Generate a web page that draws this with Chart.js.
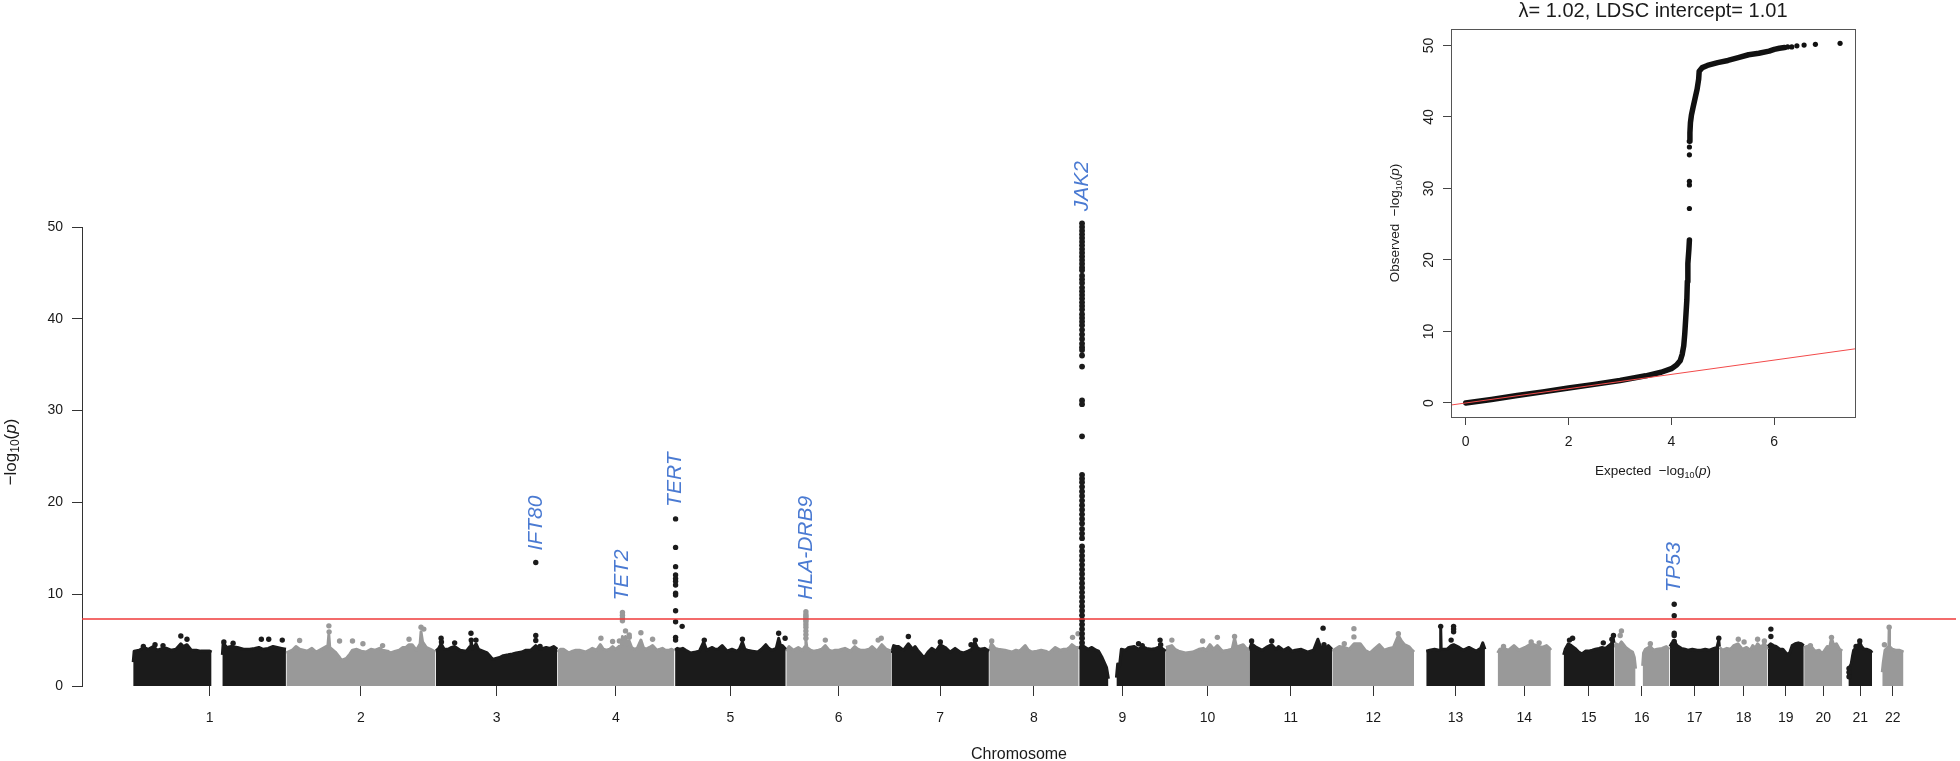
<!DOCTYPE html>
<html>
<head>
<meta charset="utf-8">
<script src="https://cdn.jsdelivr.net/npm/chart.js@4.4.1/dist/chart.umd.min.js"></script>
<style>
  html, body { margin: 0; padding: 0; background: #fff; }
  #wrap { position: relative; width: 1960px; height: 761px; overflow: hidden; }
  #manhattan { position: absolute; left: 0; top: 0; }
  #qq { position: absolute; left: 1370px; top: 0; }
</style>
</head>
<body>
<div id="wrap">
  <canvas id="manhattan" width="1960" height="761"></canvas>
  <canvas id="qq" width="500" height="490"></canvas>
</div>
<script>
// ---- data ----
const chrNames = ['1','2','3','4','5','6','7','8','9','10','11','12','13','14','15','16','17','18','19','20','21','22'];
const chrLengthMb = [249.25, 243.2, 198.0, 191.15, 180.9, 171.1, 159.1, 146.4, 141.2, 135.5, 135.0,
  133.85, 115.2, 107.35, 102.5, 90.35, 81.2, 78.1, 59.1, 63.0, 48.1, 51.3];

// upper edge of the dense SNP cloud per chromosome: [Mb, -log10 p]  (null = no SNPs)
const chrEnvelope = [
  [[0.5,2.6],[2,3.8],[10,3.9],[18,4.2],[25,4.0],[33,4.3],[40,3.9],[48,4.1],[55,4.1],[62,3.9],[70,4.0],[78,4.6],[82,4.3],[88,4.5],[95,3.9],[103,3.9],[110,3.8],[118,3.8],[125,3.8],[128,3.7],[129,null],[145.5,3.4],[147,4.8],[152,4.2],[160,4.3],[170,4.2],[180,4.0],[190,4.0],[198,4.1],[205,4.2],[212,4.0],[220,4.1],[228,4.3],[235,4.2],[242,4.1],[249,4.0]],
  [[0.5,3.6],[10,3.9],[16,4.3],[22,4.0],[35,3.8],[42,4.1],[49,3.7],[60,4.1],[68,4.4],[69.5,5.6],[71,4.2],[80,3.7],[86,3.2],[90,2.8],[98,3.0],[104,3.5],[108,3.9],[115,4.0],[122,3.8],[130,3.7],[138,4.0],[145,3.9],[152,4.1],[157,3.9],[165,3.8],[170,3.6],[178,3.8],[184,3.9],[190,4.2],[195,4.2],[200,4.5],[205,4.5],[212,3.9],[218,4.6],[219.5,5.9],[222,4.8],[228,4.2],[235,4.0],[243,3.7]],
  [[0.5,3.8],[5,4.1],[9,4.6],[14,4.0],[20,4.0],[26,4.2],[31,4.3],[40,3.9],[50,3.8],[56,4.3],[57.6,5.0],[60,4.0],[65.7,4.6],[70,4.0],[77,3.8],[84,3.6],[88,3.3],[93,2.9],[98,3.0],[104,3.1],[110,3.3],[118,3.4],[125,3.5],[131,3.6],[140,3.7],[147,3.9],[155,3.9],[163,4.4],[170,4.0],[180,4.2],[186,4.1],[192,4.3],[198,4.0]],
  [[0.5,3.7],[5,4.0],[10,4.0],[19,3.6],[25,3.8],[30,3.9],[36,3.9],[46,3.7],[52,3.9],[57,4.1],[64,3.9],[70,4.5],[75,4.0],[80,3.9],[85,4.0],[90,4.3],[95,4.0],[100,4.3],[104,4.4],[106,5.4],[108,4.6],[111,5.4],[114,4.5],[117,4.9],[121,4.2],[125,4.0],[130,4.1],[136,5.0],[140,4.2],[144,4.0],[150,4.2],[155,4.4],[162,3.9],[167,4.0],[171,4.1],[176,3.9],[182,3.9],[186,4.0],[190.5,3.8]],
  [[0.5,3.9],[4,4.1],[8,4.0],[13,4.1],[18,3.9],[26,3.6],[34,3.7],[40,3.8],[47,4.8],[52,3.9],[61,4.2],[66,4.0],[70,4.0],[77,4.4],[85,3.8],[93,4.0],[101,3.8],[105,4.0],[110,4.8],[114,4.0],[118,3.9],[126,3.8],[135,3.7],[141,4.0],[148,4.5],[153,4.1],[158,3.9],[165,4.1],[169,5.2],[172,4.4],[175,4.4],[180.5,4.0]],
  [[0.5,3.8],[5,4.3],[12,3.9],[20,4.2],[27,3.9],[31,4.3],[32.4,5.0],[34,4.2],[40,3.9],[45,3.8],[53,3.9],[58,4.0],[64,4.4],[70,3.9],[75,3.8],[80,3.9],[86,3.9],[91,4.0],[96,4.1],[105,3.8],[112,4.3],[117,4.0],[121,3.9],[129,3.9],[135,4.0],[140,4.3],[148,3.8],[156,4.5],[163,4.0],[171,3.8]],
  [[0.5,3.6],[4,4.4],[8,4.3],[12,4.3],[20,3.9],[28,4.6],[35,4.0],[39,4.3],[43,3.9],[47,3.6],[52,3.2],[55,3.2],[60,3.7],[66,4.1],[73,3.8],[80,4.5],[88,4.2],[96,3.7],[104,4.1],[112,3.7],[118,3.6],[125,3.8],[131,4.0],[136,4.8],[140,4.2],[144,4.0],[152,4.1],[159,3.8]],
  [[0.5,3.8],[4,4.6],[10,4.1],[15,4.0],[26,3.9],[32,3.8],[37,3.7],[44,3.9],[50,3.8],[59,4.4],[64,3.9],[70,3.7],[78,3.8],[85,3.9],[92,3.8],[98,3.6],[108,4.2],[116,3.9],[122,4.0],[127,4.0],[131,4.2],[135,4.5],[141,4.2],[146,4.2]],
  [[0.5,4.0],[5.07,4.6],[8,4.3],[15,4.0],[21,4.2],[28,3.9],[32,3.8],[37,3.2],[41,2.6],[45,2.0],[48,0.8],[49,null],[61,0.9],[63,2.4],[66,2.2],[69,4.0],[76,3.9],[81,4.2],[90,4.3],[97,4.0],[103,4.3],[110,4.1],[118,4.0],[125,4.1],[132,4.3],[137,4.0],[141,3.8]],
  [[0.5,4.2],[10,4.4],[15,4.0],[21,3.8],[32,3.6],[44,3.7],[54,4.0],[61,4.1],[66,3.9],[72,4.5],[78,4.0],[84,4.4],[92,3.8],[101,3.9],[108,4.0],[112,5.2],[115,4.3],[118,4.3],[126,4.5],[132,4.0],[135.5,4.1]],
  [[0.5,3.9],[4,4.6],[12,4.2],[21,3.9],[28,4.2],[37,4.5],[44,4.0],[48,4.3],[56,3.9],[64,4.2],[70,3.8],[75,3.9],[85,4.0],[96,3.7],[105,3.9],[112,5.1],[116,4.3],[124,4.1],[129,4.4],[135,4.0]],
  [[0.5,3.8],[5,4.0],[12,4.3],[20,4.2],[28,4.0],[36,4.6],[46,4.6],[54,3.9],[62,3.6],[70,4.1],[77,4.5],[85,3.9],[93,4.1],[100,4.2],[108,5.5],[113,4.9],[118,4.5],[125,4.3],[129,4.0],[133.5,3.7]],
  [[19.5,3.8],[25,3.9],[33,4.0],[40,3.9],[42.5,4.0],[43,6.4],[43.8,4.0],[53,4.0],[60,4.4],[64,4.5],[73,4.2],[80,3.9],[89,4.2],[95,4.0],[101,3.8],[108,4.1],[111.5,4.7],[115,4.0]],
  [[20.5,3.6],[24,4.0],[30,4.1],[38,3.9],[47,4.4],[55,3.9],[65,4.2],[75,4.6],[84,4.4],[93,4.2],[100,4.4],[105,4.1],[107,3.9]],
  [[20.5,3.4],[23,4.0],[28,4.6],[33,4.4],[39,4.1],[45,3.7],[50,3.5],[56,3.8],[61,3.8],[67,3.9],[72,4.0],[78,4.1],[83,4.2],[89,4.1],[94,4.4],[98,4.6],[101,5.2],[102.5,4.7]],
  [[0.5,4.2],[3,4.6],[8,4.4],[12,4.8],[19,4.2],[25,3.9],[30,3.7],[33,3.1],[35,1.9],[36,null],[46.5,2.2],[48,3.6],[51,4.0],[59,4.3],[64,3.9],[70,4.0],[78,4.1],[85,4.3],[90,4.0]],
  [[0.5,4.3],[4,4.7],[7.5,4.9],[12,4.4],[19,4.1],[25,4.0],[30,3.9],[37,4.0],[45,3.9],[51,3.9],[58,4.0],[65,3.9],[72,4.1],[77,4.2],[80,5.0],[81,4.3]],
  [[0.5,4.2],[5,3.9],[12,4.1],[18,4.0],[23,4.4],[30,4.6],[37,4.0],[44,4.2],[50,3.9],[54,4.4],[58,4.1],[62,4.6],[68,4.2],[73,4.7],[78,4.0]],
  [[0.5,4.3],[5,4.6],[10,4.4],[14,4.3],[20,4.0],[25,4.0],[30,3.6],[35,3.4],[40,4.4],[45,4.6],[50,4.7],[55,4.6],[59,4.4]],
  [[0.5,4.2],[5,4.3],[11,4.4],[18,3.8],[25,3.9],[30,3.5],[38,4.3],[42,4.2],[45,5.2],[49,4.4],[53,4.6],[58,4.0],[62.5,3.8]],
  [[9.5,1.2],[11,2.0],[14,2.4],[16,3.2],[18,3.9],[21,4.1],[25,4.4],[28,4.8],[31,4.3],[35,4.0],[39,4.0],[43,3.9],[46,3.8],[48,3.6]],
  [[16.5,1.5],[18,2.5],[21,3.9],[25,4.2],[27.2,4.3],[27.7,6.3],[28.3,4.3],[33,4.0],[38,3.9],[44,3.9],[48,3.8],[51,3.7]]
];

// individual SNPs standing out of the cloud: [chromosome, Mb, -log10 p]
const hitPoints = [
  [1,17,4.3],[1,36,4.5],[1,49,4.4],[1,78,5.45],[1,88,5.1],[1,148,4.8],[1,163,4.65],[1,209,5.1],[1,221,5.1],[1,243,5.0],
  [2,22,4.95],[2,69.6,6.55],[2,70,5.9],[2,87,4.9],[2,108,4.9],[2,125,4.6],[2,157,4.4],[2,200,5.1],[2,219.5,6.4],[2,224,6.2],
  [3,9,5.2],[3,9.5,4.8],[3,31,4.7],[3,57.6,5.75],[3,58,5.0],[3,65.7,5.0],[3,163,13.45],[3,163,5.5],[3,163,4.95],[3,170,4.3],
  [4,106,8.0],[4,106,7.7],[4,106,7.4],[4,106,7.1],[4,111,6.0],[4,117,5.55],[4,117,5.3],[4,136,5.8],[4,71,5.2],[4,155,5.1],[4,90,4.85],[4,101,4.9],
  [5,1.3,18.2],[5,1.3,15.1],[5,1.3,13.0],[5,1.3,12.1],[5,1.3,11.7],[5,1.3,11.4],[5,1.3,11.0],[5,1.3,10.1],[5,1.3,9.9],[5,1.3,8.2],[5,1.3,7.0],[5,1.3,5.3],[5,1.3,5.0],
  [5,12,6.5],[5,169,5.75],[5,179.5,5.2],[5,110,5.1],[5,48,5.0],
  [6,32.4,8.1],[6,32.4,7.8],[6,32.4,7.6],[6,32.4,7.4],[6,32.4,7.2],[6,32.4,7.0],[6,32.4,6.7],[6,32.4,6.4],[6,32.4,6.0],[6,32.4,5.6],[6,32.4,5.2],
  [6,64,5.0],[6,112,4.8],[6,155,5.2],[6,150,5.0],
  [7,28,5.4],[7,80,4.8],[7,137,5.0],[7,130,4.5],
  [8,4.5,4.9],[8,136,5.3],[8,145,5.7],
  [9,97,4.6],[9,132,5.0],[9,133,4.5],[9,103,4.4],
  [10,10,5.0],[10,84,5.3],[10,112,5.4],[10,60,4.9],
  [11,120.5,6.3],[11,4.2,4.9],[11,37,4.9],[11,122,4.5],
  [12,35.7,6.25],[12,35.7,5.35],[12,20,4.6],[12,108,5.7],
  [13,64,6.5],[13,64,6.2],[13,64,5.9],[13,60,5.0],[13,43,6.5],
  [14,75,4.8],[14,88,4.7],[14,30,4.3],
  [15,35,5.2],[15,30,5.0],[15,101.5,5.5],[15,99,5.1],[15,85,4.7],
  [16,12,6.0],[16,10,5.5],[16,59,4.6],
  [17,7.5,8.9],[17,7.5,7.65],[17,7.5,5.75],[17,7.5,5.5],[17,7.5,4.85],[17,80,5.2],
  [18,30.6,5.1],[18,62,5.1],[18,73,4.9],[18,40,4.8],
  [19,5.5,6.2],[19,5.5,5.4],
  [20,45,5.3],[20,10.7,4.4],
  [21,10.5,1.9],[21,10.5,1.5],[21,10.5,1.0],[21,28,4.9],[21,22,4.3],
  [22,27.7,6.4],[22,20,4.5]
];

// the JAK2 column on chromosome 9
const jak2Mb = 5.07;
const jak2Column = [50.4,50.0,49.6,49.2,48.8,48.4,48.0,47.6,47.2,46.8,46.4,46.0,45.6,45.3,44.7,44.3,43.9,43.4,43.0,
  42.6,42.2,41.8,41.4,41.0,40.5,40.1,39.7,39.3,38.8,38.3,37.8,37.3,36.9,36.6,36.0,34.8,31.1,30.7,27.2,
  23.0,22.6,22.2,21.7,21.2,20.7,20.2,19.7,19.2,18.7,18.2,17.7,17.1,16.6,16.1,15.2,14.7,14.2,13.7,13.2,
  12.7,12.2,11.7,11.2,10.7,10.2,9.7,9.2,8.7,8.2,7.7,7.2,6.7,6.2,5.7,5.2,4.7];

const geneNames = ['IFT80', 'TET2', 'TERT', 'HLA-DRB9', 'JAK2', 'TP53'];
const geneChr = [3, 4, 5, 6, 9, 17];
const geneMb = [163, 106, 1.3, 32.4, 5.07, 7.5];
const genePeak = [13.45, 8.0, 18.2, 8.1, 50.4, 8.9];

const yTicks = [0, 10, 20, 30, 40, 50];
const gwasThreshold = 7.3;

// QQ inset
const qqTitle = 'λ= 1.02, LDSC intercept= 1.01';
const qqCurve = [
  [0,0],[0.5,0.5],[1,1.05],[1.5,1.55],[2,2.1],[2.5,2.6],[3,3.15],[3.5,3.8],[3.8,4.3],[4.0,4.8],[4.1,5.3],
  [4.17,5.9],[4.21,6.8],[4.24,8.0],[4.26,9.7],[4.28,12.0],[4.3,14.4],[4.31,17.0],[4.32,19.5],[4.34,21.5],[4.35,22.8],
  null,
  [4.35,36.6],[4.36,37.8],[4.37,39.2],[4.39,40.3],[4.42,41.3],[4.46,42.6],[4.5,43.9],[4.53,45.3],[4.54,46.4],
  [4.6,46.9],[4.7,47.2],[4.9,47.6],[5.1,47.9],[5.3,48.3],[5.5,48.7],[5.7,48.9],[5.9,49.2],[6.0,49.45],[6.1,49.6],[6.2,49.7]
];
const qqPoints = [[4.35,27.2],[4.35,30.5],[4.35,31.0],[4.35,34.7],[4.35,35.8],
  [6.26,49.8],[6.34,49.8],[6.44,49.95],[6.58,50.05],[6.8,50.15],[7.28,50.3]];
const qqXTicks = [0, 2, 4, 6];
const qqYTicks = [0, 10, 20, 30, 40, 50];

// ---- helpers ----
const FONT = '"Liberation Sans", Arial, Helvetica, sans-serif';
const BLACK = '#1b1b1b';
const GREY = '#999999';
const RED = '#ef3a3a';
const BLUE = '#4a7ad2';
Chart.defaults.font.family = FONT;
Chart.defaults.color = '#1a1a1a';

const chrOffset = [];
let acc = 0;
chrLengthMb.forEach((len) => { chrOffset.push(acc); acc += len; });
const cumPos = (chr, mb) => chrOffset[chr - 1] + mb;
const chrColor = (chr) => (chr % 2 === 1 ? BLACK : GREY);

const chrTicks = chrEnvelope.map((env, i) => cumPos(i + 1, (env[0][0] + env[env.length - 1][0]) / 2));

const xMin = -82.8;
const xMax = 2966;

// draws "-log10(p)" with a subscript and italic p
function drawLogLabel(ctx, prefix, cx, cy, size, vertical) {
  const sub = Math.round(size * 0.7);
  const parts = [
    [prefix + '\u2212log', `${size}px ${FONT}`, 0],
    ['10', `${sub}px ${FONT}`, size * 0.3],
    ['(', `${size}px ${FONT}`, 0],
    ['p', `italic ${size}px ${FONT}`, 0],
    [')', `${size}px ${FONT}`, 0],
  ];
  ctx.save();
  ctx.translate(cx, cy);
  if (vertical) ctx.rotate(-Math.PI / 2);
  ctx.fillStyle = '#1a1a1a';
  ctx.textBaseline = 'middle';
  ctx.textAlign = 'left';
  let w = 0;
  parts.forEach((p) => { ctx.font = p[1]; w += ctx.measureText(p[0]).width; });
  let xx = -w / 2;
  parts.forEach((p) => {
    ctx.font = p[1];
    ctx.fillText(p[0], xx, p[2]);
    xx += ctx.measureText(p[0]).width;
  });
  ctx.restore();
}

// ---- Manhattan plot ----
const geneLabels = {
  id: 'geneLabels',
  afterDatasetsDraw(chart) {
    const { ctx, scales: { x, y } } = chart;
    ctx.save();
    ctx.fillStyle = BLUE;
    ctx.font = `italic 21px ${FONT}`;
    ctx.textAlign = 'left';
    ctx.textBaseline = 'middle';
    geneNames.forEach((g, i) => {
      const px = x.getPixelForValue(cumPos(geneChr[i], geneMb[i]));
      const py = y.getPixelForValue(genePeak[i]) - 12;
      ctx.save();
      ctx.translate(px, py);
      ctx.rotate(-Math.PI / 2);
      ctx.fillText(g, 0, 0);
      ctx.restore();
    });
    ctx.restore();
  },
  afterDraw(chart) {
    const { ctx, chartArea } = chart;
    drawLogLabel(ctx, '', 11, 452, 17, true);
    ctx.save();
    ctx.fillStyle = '#1a1a1a';
    ctx.font = `16px ${FONT}`;
    ctx.textAlign = 'center';
    ctx.textBaseline = 'middle';
    ctx.fillText('Chromosome', (chartArea.left + chartArea.right) / 2, 755);
    ctx.restore();
  },
};

const envelopeSets = chrEnvelope.map((env, i) => ({
  type: 'line',
  label: 'chr' + chrNames[i],
  data: env.map(([mb, v]) => ({ x: cumPos(i + 1, mb), y: v })),
  borderColor: chrColor(i + 1),
  backgroundColor: chrColor(i + 1),
  borderWidth: 3,
  borderJoinStyle: 'round',
  pointRadius: 0,
  fill: 'origin',
  tension: 0,
  spanGaps: false,
  clip: false,
}));

new Chart(document.getElementById('manhattan'), {
  type: 'scatter',
  data: {
    datasets: [
      {
        type: 'line',
        label: 'genome-wide significance',
        data: [{ x: xMin, y: gwasThreshold }, { x: xMax, y: gwasThreshold }],
        borderColor: RED,
        borderWidth: 1.3,
        pointRadius: 0,
        fill: false,
      },
      {
        label: 'JAK2',
        data: jak2Column.map((v) => ({ x: cumPos(9, jak2Mb), y: v })),
        backgroundColor: BLACK,
        borderWidth: 0,
        pointRadius: 2.9,
        clip: false,
      },
      {
        label: 'hits',
        data: hitPoints.map(([c, mb, v]) => ({ x: cumPos(c, mb), y: v })),
        backgroundColor: hitPoints.map(([c]) => chrColor(c)),
        borderWidth: 0,
        pointRadius: 2.7,
        clip: false,
      },
      ...envelopeSets,
    ],
  },
  options: {
    responsive: false,
    animation: false,
    events: [],
    layout: { padding: { left: 0, right: 0, top: 227, bottom: 0 } },
    plugins: { legend: { display: false }, tooltip: { enabled: false } },
    scales: {
      x: {
        type: 'linear',
        min: xMin,
        max: xMax,
        afterBuildTicks: (s) => { s.ticks = chrTicks.map((v) => ({ value: v })); },
        afterFit: (s) => { s.height = 75; },
        border: { display: false },
        grid: { drawOnChartArea: false, drawTicks: true, tickLength: 10, color: '#333', lineWidth: 1 },
        ticks: {
          autoSkip: false,
          maxRotation: 0,
          minRotation: 0,
          padding: 14,
          color: '#1a1a1a',
          font: { size: 14 },
          callback: (v, i) => chrNames[i],
        },
      },
      y: {
        type: 'linear',
        min: 0,
        max: 50,
        afterBuildTicks: (s) => { s.ticks = yTicks.map((v) => ({ value: v })); },
        afterFit: (s) => { s.width = 82; },
        border: { display: true, color: '#333', width: 1 },
        grid: { drawOnChartArea: false, drawTicks: true, tickLength: 10, color: '#333', lineWidth: 1 },
        ticks: { padding: 9, color: '#1a1a1a', font: { size: 14 } },
      },
    },
  },
  plugins: [geneLabels],
});

// ---- QQ inset ----
const qqDecor = {
  id: 'qqDecor',
  afterDraw(chart) {
    const { ctx, chartArea, scales: { y } } = chart;
    ctx.save();
    ctx.strokeStyle = '#555';
    ctx.lineWidth = 1;
    ctx.strokeRect(chartArea.left + 0.5, chartArea.top + 0.5,
      chartArea.right - chartArea.left, chartArea.bottom - chartArea.top);
    ctx.fillStyle = '#1a1a1a';
    ctx.font = `14px ${FONT}`;
    ctx.textAlign = 'center';
    ctx.textBaseline = 'middle';
    qqYTicks.forEach((v) => {
      ctx.save();
      ctx.translate(chartArea.left - 22, y.getPixelForValue(v));
      ctx.rotate(-Math.PI / 2);
      ctx.fillText(String(v), 0, 0);
      ctx.restore();
    });
    ctx.font = `20px ${FONT}`;
    ctx.fillText(qqTitle, (chartArea.left + chartArea.right) / 2, 11);
    ctx.restore();
    const cx = (chartArea.left + chartArea.right) / 2;
    drawLogLabel(ctx, 'Expected  ', cx, 471, 13.5, false);
    drawLogLabel(ctx, 'Observed  ', 25, (chartArea.top + chartArea.bottom) / 2, 13.5, true);
  },
};

const qqXMin = -0.286, qqXMax = 7.57;
const qqYMin = -1.96, qqYMax = 52.3;

new Chart(document.getElementById('qq'), {
  type: 'scatter',
  data: {
    datasets: [
      {
        type: 'line',
        label: 'expected',
        data: [{ x: qqXMin, y: qqXMin }, { x: qqXMax, y: qqXMax }],
        borderColor: '#f24a4a',
        borderWidth: 1,
        pointRadius: 0,
        fill: false,
      },
      {
        label: 'sparse',
        data: qqPoints.map(([a, b]) => ({ x: a, y: b })),
        backgroundColor: '#111',
        borderWidth: 0,
        pointRadius: 2.6,
      },
      {
        type: 'line',
        label: 'observed',
        data: qqCurve.map((p, i) => (p ? { x: p[0], y: p[1] } : { x: qqCurve[i - 1][0], y: null })),
        borderColor: '#111',
        borderWidth: 5.5,
        borderCapStyle: 'round',
        borderJoinStyle: 'round',
        pointRadius: 0,
        fill: false,
        spanGaps: false,
        tension: 0,
      },
    ],
  },
  options: {
    responsive: false,
    animation: false,
    events: [],
    layout: { padding: { left: 0, right: 15, top: 29, bottom: 0 } },
    plugins: { legend: { display: false }, tooltip: { enabled: false } },
    scales: {
      x: {
        type: 'linear',
        min: qqXMin,
        max: qqXMax,
        afterBuildTicks: (s) => { s.ticks = qqXTicks.map((v) => ({ value: v })); },
        afterFit: (s) => { s.height = 73; },
        border: { display: false },
        grid: { drawOnChartArea: false, drawTicks: true, tickLength: 8, color: '#444' },
        ticks: { padding: 9, color: '#1a1a1a', font: { size: 14 }, maxRotation: 0 },
      },
      y: {
        type: 'linear',
        min: qqYMin,
        max: qqYMax,
        afterBuildTicks: (s) => { s.ticks = qqYTicks.map((v) => ({ value: v })); },
        afterFit: (s) => { s.width = 81; },
        border: { display: false },
        grid: { drawOnChartArea: false, drawTicks: true, tickLength: 8, color: '#444' },
        ticks: { display: false },
      },
    },
  },
  plugins: [qqDecor],
});
</script>
</body>
</html>
